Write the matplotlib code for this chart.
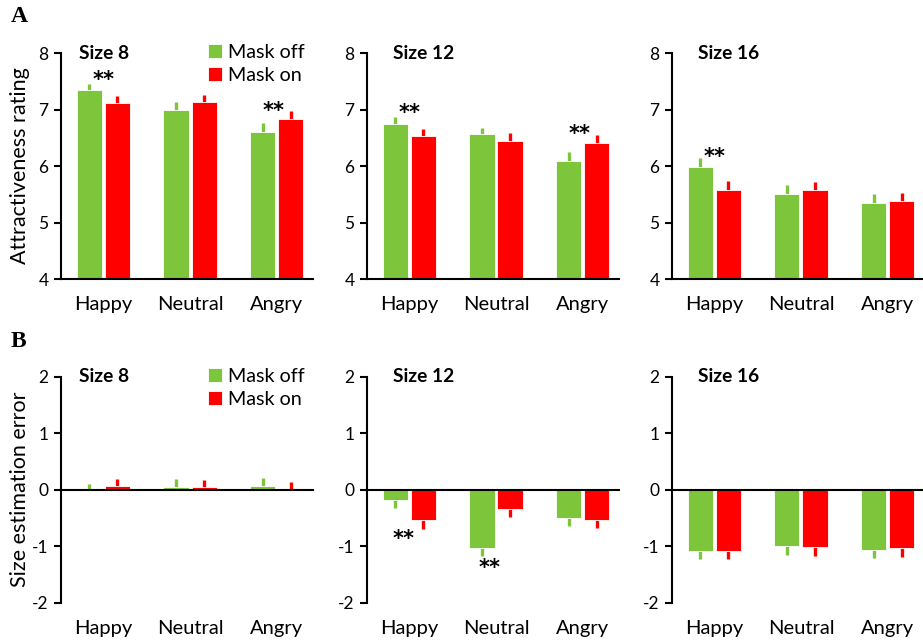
import matplotlib
matplotlib.use("Agg")
import matplotlib.pyplot as plt
import numpy as np

plt.rcParams["font.family"] = ["Lato", "DejaVu Sans"]
plt.rcParams["axes.unicode_minus"] = False

GREEN = "#7dc63b"
RED = "#ff0000"

emotions = ["Happy", "Neutral", "Angry"]
sizes = ["Size 8", "Size 12", "Size 16"]

# attractiveness rating (panel A)
attr_off = [[7.35, 7.00, 6.61], [6.74, 6.56, 6.09], [5.99, 5.50, 5.34]]
attr_off_err = [[0.11, 0.13, 0.15], [0.13, 0.12, 0.15], [0.16, 0.17, 0.17]]
attr_on = [[7.12, 7.13, 6.83], [6.54, 6.45, 6.40], [5.58, 5.57, 5.38]]
attr_on_err = [[0.12, 0.13, 0.14], [0.12, 0.13, 0.15], [0.15, 0.15, 0.15]]

# size estimation error (panel B)
size_off = [[0.01, 0.05, 0.07], [-0.19, -1.03, -0.50], [-1.08, -1.00, -1.06]]
size_off_err = [[0.10, 0.14, 0.13], [0.13, 0.15, 0.15], [0.15, 0.15, 0.15]]
size_on = [[0.07, 0.05, 0.01], [-0.54, -0.35, -0.54], [-1.08, -1.02, -1.04]]
size_on_err = [[0.12, 0.12, 0.12], [0.15, 0.14, 0.14], [0.15, 0.15, 0.15]]

# significance markers: (row, col, x, y)
stars = [(0, 0, 0.0, 7.53), (0, 0, 1.97, 6.98), (0, 1, 0.0, 6.93), (0, 1, 1.97, 6.57),
         (0, 2, 0.0, 6.16), (1, 1, -0.07, -0.88), (1, 1, 0.93, -1.38)]

fig = plt.figure(figsize=(9.23, 6.42), dpi=100)
lefts = [0.0661, 0.3976, 0.728]
bottoms = [0.5654, 0.0612]
W, H = 0.273, 0.352
x = np.arange(3)
off = 0.162
bw = 0.29


def one_sided(vals, errs):
    vals = np.array(vals)
    errs = np.array(errs)
    lo = np.where(vals < 0, errs, 0)
    hi = np.where(vals >= 0, errs, 0)
    return [lo, hi]


axes = {}
for r, (d_off, e_off, d_on, e_on) in enumerate([(attr_off, attr_off_err, attr_on, attr_on_err),
                                                 (size_off, size_off_err, size_on, size_on_err)]):
    for c in range(3):
        ax = fig.add_axes([lefts[c], bottoms[r], W, H])
        axes[(r, c)] = ax
        ax.bar(x - off, d_off[c], bw, color=GREEN, edgecolor="white", linewidth=0.6, label="Mask off", zorder=2)
        ax.bar(x + off, d_on[c], bw, color=RED, edgecolor="white", linewidth=0.6, label="Mask on", zorder=2)
        ax.errorbar(x - off, d_off[c], yerr=one_sided(d_off[c], e_off[c]), fmt="none",
                    ecolor=GREEN, elinewidth=2.4, capsize=0, zorder=1)
        ax.errorbar(x + off, d_on[c], yerr=one_sided(d_on[c], e_on[c]), fmt="none",
                    ecolor=RED, elinewidth=2.4, capsize=0, zorder=1)
        ax.set_xlim(-0.49, 2.42)
        if r == 0:
            ax.set_ylim(4, 8)
            ax.set_yticks([4, 5, 6, 7, 8])
        else:
            ax.set_ylim(-2, 2)
            ax.set_yticks([-2, -1, 0, 1, 2])
            ax.spines["bottom"].set_position(("data", 0))
        ax.set_xticks([])
        for s in ["top", "right"]:
            ax.spines[s].set_visible(False)
        for s in ["left", "bottom"]:
            ax.spines[s].set_linewidth(1.5)
            ax.spines[s].set_zorder(3)
        ax.tick_params(axis="y", length=5, width=1.5, labelsize=12.5, pad=4)
        for i, name in enumerate(emotions):
            ax.text(i, -0.075, name, transform=ax.get_xaxis_transform(), ha="center", va="top", fontsize=14.5)
        tx = 0.071 if c == 0 else 0.103
        ax.text(tx, 1.0, sizes[c], transform=ax.transAxes, ha="left", va="center",
                fontsize=13.8, fontweight="bold")
        if c == 0:
            ax.legend(loc="upper right", bbox_to_anchor=(1.0, 1.075), frameon=False, fontsize=14.2,
                      handlelength=0.75, handleheight=0.75, handletextpad=0.3, labelspacing=0.3,
                      borderaxespad=0.0)

for r, c, sx, sy in stars:
    axes[(r, c)].text(sx, sy, "**", ha="center", va="center", fontsize=15, fontweight="bold",
                      family="DejaVu Sans")

axes[(0, 0)].set_ylabel("Attractiveness rating", fontsize=15.5)
axes[(1, 0)].set_ylabel("Size estimation error", fontsize=15.5)
for r in range(2):
    axes[(r, 0)].yaxis.set_label_coords(-0.125, 0.5)

fig.text(0.012, 0.975, "A", family="Liberation Serif", fontweight="bold", fontsize=17, va="center")
fig.text(0.012, 0.468, "B", family="Liberation Serif", fontweight="bold", fontsize=17, va="center")

fig.savefig("out.png", dpi=100)
